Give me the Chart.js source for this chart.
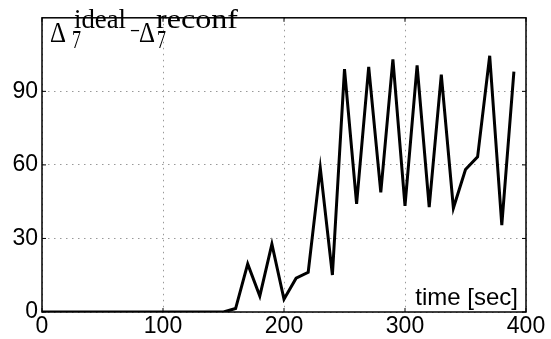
<!DOCTYPE html>
<html>
<head>
<meta charset="utf-8">
<script src="https://cdn.jsdelivr.net/npm/chart.js@4/dist/chart.umd.min.js"></script>
<style>
  html, body { margin: 0; padding: 0; background: #fff; }
  #wrap { width: 551px; height: 339px; }
</style>
</head>
<body>
<div id="wrap"><canvas id="delta-chart" width="551" height="339"></canvas></div>
<script>
// sample times (sec) and the measured difference
const times = [0, 10, 20, 30, 40, 50, 60, 70, 80, 90, 100, 110, 120, 130, 140, 150,
  160, 170, 180, 190, 200, 210, 220, 230, 240, 250, 260, 270, 280, 290, 300,
  310, 320, 330, 340, 350, 360, 370, 380, 390];
const deltaDiff = [0, 0, 0, 0, 0, 0, 0, 0, 0, 0, 0, 0, 0, 0, 0, 0,
  1.4, 19.6, 6.5, 27.7, 5.2, 13.8, 16.2, 58.7, 15.1, 99.1, 44.1, 100, 48.8, 103, 43.3,
  100.6, 42.8, 96.8, 42.4, 58.1, 63.3, 104.5, 35.4, 98];
const xTicks = [0, 100, 200, 300, 400];
const yTicks = [0, 30, 60, 90];
const xLabel = "time [sec]";

const sansFont = "'Liberation Sans', Arial, sans-serif";
const serifFont = "'Liberation Serif', 'Times New Roman', serif";

// draw a text piece stretched to a given width
function fitText(ctx, txt, x0, width, baseline, size) {
  ctx.font = size + "px " + serifFont;
  const w = ctx.measureText(txt).width;
  ctx.save();
  ctx.translate(x0, baseline);
  ctx.scale(width / w, 1);
  ctx.fillText(txt, 0, 0);
  ctx.restore();
}

// frame, inward ticks and the two text annotations
const decorations = {
  id: "decorations",
  afterDraw(chart) {
    const { ctx, chartArea: a, scales } = chart;
    ctx.save();
    ctx.strokeStyle = "#000";
    ctx.lineWidth = 1.5;
    ctx.strokeRect(a.left, a.top, a.right - a.left, a.bottom - a.top);

    ctx.lineWidth = 1;
    ctx.beginPath();
    xTicks.forEach((v) => {
      const px = scales.x.getPixelForValue(v);
      ctx.moveTo(px, a.bottom); ctx.lineTo(px, a.bottom - 4);
      ctx.moveTo(px, a.top); ctx.lineTo(px, a.top + 4);
    });
    yTicks.forEach((v) => {
      const py = scales.y.getPixelForValue(v);
      ctx.moveTo(a.left, py); ctx.lineTo(a.left + 4, py);
      ctx.moveTo(a.right, py); ctx.lineTo(a.right - 4, py);
    });
    ctx.stroke();

    // x label sits inside the plot, bottom right
    ctx.fillStyle = "#000";
    ctx.font = "24px " + sansFont;
    ctx.textAlign = "right";
    ctx.textBaseline = "alphabetic";
    ctx.fillText(xLabel, a.right - 8, a.bottom - 7);

    // title: Δ7^ideal – Δ7^reconf
    ctx.textAlign = "left";
    const L = a.left;
    fitText(ctx, "\u0394", L + 8, 16, 42, 30);
    fitText(ctx, "7", L + 30, 9, 48, 25);
    fitText(ctx, "ideal", L + 32, 52, 28, 27);
    fitText(ctx, "\u2013", L + 89, 8, 37, 26);
    fitText(ctx, "\u0394", L + 97, 16, 42, 30);
    fitText(ctx, "7", L + 115, 9, 48, 25);
    fitText(ctx, "reconf", L + 114, 82, 28, 27);
    ctx.restore();
  },
};

const ctx = document.getElementById("delta-chart").getContext("2d");
new Chart(ctx, {
  type: "line",
  data: {
    datasets: [
      {
        label: "delta",
        data: times.map((t, i) => ({ x: t, y: deltaDiff[i] })),
        borderColor: "#000",
        borderWidth: 3,
        borderJoinStyle: "miter",
        pointRadius: 0,
        tension: 0,
        fill: false,
      },
    ],
  },
  options: {
    responsive: false,
    animation: false,
    devicePixelRatio: 1,
    layout: { padding: { left: 0, right: 25, top: 5, bottom: 0 } },
    plugins: { legend: { display: false }, tooltip: { enabled: false } },
    scales: {
      x: {
        type: "linear",
        min: 0,
        max: 400,
        afterBuildTicks: (axis) => { axis.ticks = xTicks.map((v) => ({ value: v })); },
        afterFit: (axis) => { axis.height = 27; },
        ticks: { color: "#000", font: { family: sansFont, size: 23 }, padding: 1, maxRotation: 0 },
        grid: { color: "#999", lineWidth: 1, drawTicks: false },
        border: { display: false, dash: [1.5, 4.5] },
      },
      y: {
        min: 0,
        max: 120,
        afterBuildTicks: (axis) => { axis.ticks = yTicks.map((v) => ({ value: v })); },
        afterFit: (axis) => { axis.width = 42; },
        ticks: { color: "#000", font: { family: sansFont, size: 23 }, padding: 4 },
        grid: { color: "#999", lineWidth: 1, drawTicks: false },
        border: { display: false, dash: [1.5, 4.5] },
      },
    },
  },
  plugins: [decorations],
});
</script>
</body>
</html>
